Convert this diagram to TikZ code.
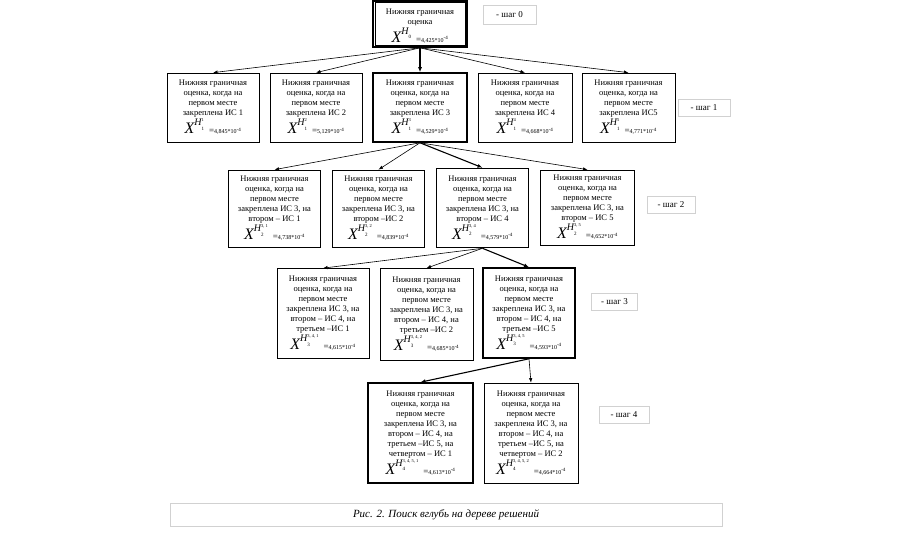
\documentclass[tikz,border=0pt]{standalone}
\usepackage{fontspec}
\setmainfont{Liberation Serif}
\usetikzlibrary{arrows.meta}

\newlength\lbwa
\newlength\lbwb
\newcommand{\lbform}[3]{%
\settowidth\lbwa{\fontsize{4.5}{4.5}\selectfont #2}%
\settowidth\lbwb{\fontsize{5}{5}\selectfont #1}%
\ifdim\lbwb>\lbwa \setlength\lbwa{\lbwb}\fi
{\fontsize{16}{16}\selectfont\itshape X}%
\raisebox{8pt}{\fontsize{10}{10}\selectfont\itshape H}%
\rlap{\raisebox{12pt}{\fontsize{4.5}{4.5}\selectfont #2}}%
\rlap{\raisebox{3.5pt}{\fontsize{5}{5}\selectfont #1}}%
\hspace{\lbwa}\hspace{5pt}%
{\fontsize{9}{9}\selectfont =}{\fontsize{6}{6}\selectfont #3*10\textsuperscript{-4}}}

\tikzset{
  box/.style={draw, line width=0.7pt, fill=white, align=center, inner sep=1pt,
    font=\fontsize{8.5}{10}\selectfont},
  selbox/.style={box, line width=1.6pt},
  steplabel/.style={draw=black!18, fill=white, inner sep=0pt, line width=0.6pt,
    font=\fontsize{9}{9}\selectfont},
  arr/.style={-{Latex[length=4.5pt,width=3.5pt]}, line width=0.6pt},
  selarr/.style={-{Latex[length=5pt,width=4pt]}, line width=1.1pt},
}

\begin{document}
\begin{tikzpicture}[x=1pt,y=-1pt]
\useasboundingbox[fill=white] (0,0) rectangle (900,540);

% step 0
\node[box, line width=1.6pt, minimum width=94pt, minimum height=46pt] (top) at (420,24)
  {\rule{0pt}{10pt}Нижняя граничная\\оценка\\\lbform{0}{}{4,425}};
\draw[line width=0.6pt] ([shift={(2.6,2.6)}]top.north west) rectangle ([shift={(-2.6,-2.6)}]top.south east);

% step 1
\node[box, minimum width=92pt, minimum height=69pt] (r1a) at (213,107.5)
  {Нижняя граничная\\оценка, когда на\\первом месте\\закреплена ИС 1\\\lbform{1}{1}{4,845}};
\node[box, minimum width=92pt, minimum height=69pt] (r1b) at (316,107.5)
  {Нижняя граничная\\оценка, когда на\\первом месте\\закреплена ИС 2\\\lbform{1}{2}{5,129}};
\node[selbox, minimum width=94pt, minimum height=69pt] (r1c) at (420,107.5)
  {Нижняя граничная\\оценка, когда на\\первом месте\\закреплена ИС 3\\\lbform{1}{3}{4,529}};
\node[box, minimum width=94pt, minimum height=69pt] (r1d) at (525,107.5)
  {Нижняя граничная\\оценка, когда на\\первом месте\\закреплена ИС 4\\\lbform{1}{4}{4,668}};
\node[box, minimum width=93pt, minimum height=69pt] (r1e) at (628.5,107.5)
  {Нижняя граничная\\оценка, когда на\\первом месте\\закреплена ИС5\\\lbform{1}{5}{4,771}};

% step 2
\node[box, minimum width=92pt, minimum height=77pt] (r2a) at (274.5,208.5)
  {Нижняя граничная\\оценка, когда на\\первом месте\\закреплена ИС 3, на\\втором – ИС 1\\\lbform{2}{3, 1}{4,738}};
\node[box, minimum width=92pt, minimum height=77pt] (r2b) at (378.5,208.5)
  {Нижняя граничная\\оценка, когда на\\первом месте\\закреплена ИС 3, на\\втором –ИС 2\\\lbform{2}{3, 2}{4,839}};
\node[selbox, minimum width=92pt, minimum height=79pt] (r2c) at (482.5,208)
  {Нижняя граничная\\оценка, когда на\\первом месте\\закреплена ИС 3, на\\втором – ИС 4\\\lbform{2}{3, 4}{4,579}};
\node[box, minimum width=94pt, minimum height=75pt] (r2d) at (587.5,207.5)
  {Нижняя граничная\\оценка, когда на\\первом месте\\закреплена ИС 3, на\\втором – ИС 5\\\lbform{2}{3, 5}{4,652}};

% step 3
\node[box, minimum width=92pt, minimum height=90pt] (r3a) at (323,313.5)
  {Нижняя граничная\\оценка, когда на\\первом месте\\закреплена ИС 3, на\\втором – ИС 4, на\\третьем –ИС 1\\\lbform{3}{3, 4, 1}{4,615}};
\node[box, minimum width=93pt, minimum height=92pt] (r3b) at (426.5,314.5)
  {Нижняя граничная\\оценка, когда на\\первом месте\\закреплена ИС 3, на\\втором – ИС 4, на\\третьем –ИС 2\\\lbform{3}{3, 4, 2}{4,685}};
\node[selbox, minimum width=92pt, minimum height=90pt] (r3c) at (529,313)
  {Нижняя граничная\\оценка, когда на\\первом месте\\закреплена ИС 3, на\\втором – ИС 4, на\\третьем –ИС 5\\\lbform{3}{3, 4, 5}{4,593}};

% step 4
\node[selbox, minimum width=105pt, minimum height=100pt] (r4a) at (420.5,433)
  {Нижняя граничная\\оценка, когда на\\первом месте\\закреплена ИС 3, на\\втором – ИС 4, на\\третьем –ИС 5, на\\четвертом – ИС 1\\\lbform{4}{3, 4, 5, 1}{4,613}};
\node[box, minimum width=94pt, minimum height=100pt] (r4b) at (531,433)
  {Нижняя граничная\\оценка, когда на\\первом месте\\закреплена ИС 3, на\\втором – ИС 4, на\\третьем –ИС 5, на\\четвертом – ИС 2\\\lbform{4}{3, 4, 5, 2}{4,664}};

% step labels
\node[steplabel, minimum width=53pt, minimum height=19pt] (s0) at (509.5,14.5) {- шаг 0};
\node[steplabel, minimum width=52pt, minimum height=17pt] (s1) at (704,108) {- шаг 1};
\node[steplabel, minimum width=48pt, minimum height=17pt] (s2) at (671,205) {- шаг 2};
\node[steplabel, minimum width=46pt, minimum height=17pt] (s3) at (614.5,301.5) {- шаг 3};
\node[steplabel, minimum width=50pt, minimum height=17pt] (s4) at (624,415) {- шаг 4};

% caption
\node[draw=black!18, fill=white, line width=0.6pt, minimum width=552pt, minimum height=23pt,
  font=\fontsize{11}{11}\selectfont\itshape] (cap) at (446,514.5) {Рис. 2. Поиск вглубь на дереве решений};

% connectors
\draw[arr] (top.south) -- (r1a.north);
\draw[arr] (top.south) -- (r1b.north);
\draw[selarr] (top.south) -- (r1c.north);
\draw[arr] (top.south) -- (r1d.north);
\draw[arr] (top.south) -- (r1e.north);

\draw[arr] (r1c.south) -- (r2a.north);
\draw[arr] (r1c.south) -- (r2b.north);
\draw[selarr] (r1c.south) -- (r2c.north);
\draw[arr] (r1c.south) -- (r2d.north);

\draw[arr] (r2c.south) -- (r3a.north);
\draw[arr] (r2c.south) -- (r3b.north);
\draw[selarr] (r2c.south) -- (r3c.north);

\draw[selarr] (r3c.south) -- (r4a.north);
\draw[arr] (r3c.south) -- (r4b.north);
\end{tikzpicture}
\end{document}
